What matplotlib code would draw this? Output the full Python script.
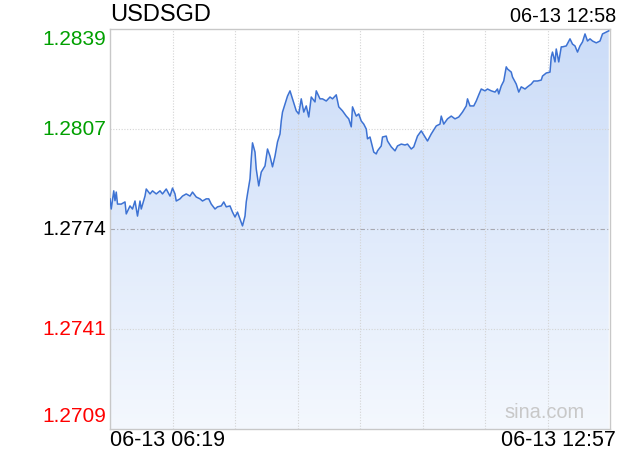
import numpy as np
import matplotlib
matplotlib.use("Agg")
import matplotlib.pyplot as plt
from matplotlib.colors import LinearSegmentedColormap

plt.rcParams['font.family'] = ['Liberation Sans', 'DejaVu Sans']

# minutes after 06-13 06:19
minutes = [0, 1, 3, 4, 5, 6, 9, 12, 13, 16, 18, 20, 22, 24, 25, 28, 29, 32, 34, 37,
           40, 42, 45, 48, 50, 52, 53, 56, 58, 61, 64, 66, 69, 72, 74, 77, 79, 81, 84, 86,
           89, 91, 93, 96, 98, 100, 102, 104, 106, 108, 109, 110, 112, 113, 114, 116, 117, 119, 121, 124,
           126, 128, 130, 132, 134, 136, 137, 138, 140, 142, 144, 146, 149, 151, 153, 155, 157, 159, 161, 164,
           165, 168, 170, 173, 176, 178, 181, 183, 186, 189, 191, 193, 194, 197, 199, 201, 203, 205, 206, 208,
           210, 211, 213, 214, 217, 218, 221, 222, 225, 228, 230, 233, 236, 238, 241, 243, 246, 249, 252, 254,
           257, 261, 264, 265, 267, 270, 273, 276, 279, 282, 285, 286, 288, 291, 293, 295, 297, 300, 302, 305,
           308, 310, 311, 313, 315, 317, 318, 321, 322, 325, 327, 329, 332, 334, 337, 339, 342, 345, 346, 349,
           352, 353, 354, 356, 357, 359, 361, 362, 365, 368, 370, 372, 374, 376, 378, 380, 382, 384, 386, 389,
           392, 394, 397, 399]
prices = [1.27838, 1.27805, 1.27864, 1.27832, 1.27860, 1.27821, 1.27821, 1.27828, 1.27789, 1.27815,
          1.27805, 1.27831, 1.27782, 1.27831, 1.27805, 1.27847, 1.27870, 1.27854, 1.27864, 1.27854,
          1.27864, 1.27854, 1.27870, 1.27847, 1.27873, 1.27854, 1.27831, 1.27838, 1.27847, 1.27854,
          1.27847, 1.27860, 1.27844, 1.27838, 1.27831, 1.27838, 1.27838, 1.27821, 1.27805, 1.27812,
          1.27815, 1.27828, 1.27812, 1.27815, 1.27795, 1.27779, 1.27795, 1.27773, 1.27750, 1.27782,
          1.27828, 1.27854, 1.27903, 1.27968, 1.28020, 1.27990, 1.27935, 1.27880, 1.27925, 1.27945,
          1.28000, 1.27977, 1.27942, 1.27977, 1.28023, 1.28049, 1.28091, 1.28120, 1.28146, 1.28172,
          1.28189, 1.28163, 1.28124, 1.28114, 1.28163, 1.28120, 1.28140, 1.28104, 1.28169, 1.28153,
          1.28189, 1.28163, 1.28163, 1.28156, 1.28169, 1.28163, 1.28176, 1.28137, 1.28124, 1.28107,
          1.28098, 1.28072, 1.28137, 1.28107, 1.28114, 1.28091, 1.28081, 1.28065, 1.28033, 1.28039,
          1.28007, 1.27990, 1.27984, 1.27994, 1.28010, 1.28039, 1.28042, 1.28026, 1.28007, 1.27994,
          1.28010, 1.28016, 1.28013, 1.28016, 1.28000, 1.28007, 1.28042, 1.28059, 1.28039, 1.28026,
          1.28049, 1.28075, 1.28081, 1.28107, 1.28081, 1.28098, 1.28107, 1.28098, 1.28104, 1.28120,
          1.28140, 1.28163, 1.28140, 1.28140, 1.28156, 1.28176, 1.28195, 1.28189, 1.28195, 1.28189,
          1.28185, 1.28195, 1.28179, 1.28205, 1.28221, 1.28267, 1.28260, 1.28250, 1.28234, 1.28211,
          1.28185, 1.28202, 1.28195, 1.28202, 1.28211, 1.28221, 1.28221, 1.28224, 1.28237, 1.28247,
          1.28250, 1.28299, 1.28315, 1.28283, 1.28325, 1.28283, 1.28332, 1.28332, 1.28335, 1.28358,
          1.28341, 1.28335, 1.28315, 1.28335, 1.28348, 1.28374, 1.28351, 1.28358, 1.28351, 1.28345,
          1.28351, 1.28374, 1.28380, 1.28384]

y_ticks = [1.2839, 1.28065, 1.2774, 1.27415, 1.2709]
y_labels = ['1.2839', '1.2807', '1.2774', '1.2741', '1.2709']
y_colors = ['#00a000', '#00a000', '#000000', '#ff0000', '#ff0000']
symbol = 'USDSGD'
time_now = '06-13 12:58'
time_start = '06-13 06:19'
time_end = '06-13 12:57'

fig = plt.figure(figsize=(6.2, 4.6), dpi=100)
ax = fig.add_axes([110 / 620, 30 / 460, 500 / 620, 400 / 460])
ax.set_xlim(0, 400)
ax.set_ylim(1.2709, 1.2839)

# gradient fill under the line
cmap = LinearSegmentedColormap.from_list('fill', ['#f4f8fe', '#cbdcf8'])
grad = np.linspace(0, 1, 256).reshape(-1, 1)
im = ax.imshow(grad, cmap=cmap, aspect='auto', origin='lower',
               extent=[0, 400, 1.2709, 1.2839], zorder=1)
poly = ax.fill_between(minutes, prices, 1.2709, color='none')
im.set_clip_path(poly.get_paths()[0], transform=ax.transData)

# grid
for xv in range(50, 400, 50):
    ax.axvline(xv, color='#d4d4d4', lw=0.8, ls=(0, (1, 1.5)), zorder=2)
for yv in [y_ticks[1], y_ticks[3]]:
    ax.axhline(yv, color='#d4d4d4', lw=0.8, ls=(0, (1, 1.5)), zorder=2)
ax.axhline(y_ticks[2], color='#a8a8b0', lw=0.8, ls=(0, (4, 2, 1, 2)), zorder=2)

ax.plot(minutes, prices, color='#3d72d3', lw=1.1, zorder=3)

ax.set_xticks([])
ax.set_yticks([])
for s in ax.spines.values():
    s.set_color('#c8c8c8')
    s.set_linewidth(1)

# price labels
for i, (v, lab, c) in enumerate(zip(y_ticks, y_labels, y_colors)):
    va = 'center'
    yy = v
    if i == 0:
        yy = v - 0.0003
    if i == len(y_ticks) - 1:
        yy = v + 0.00045
    ax.text(-0.008, yy, lab, transform=ax.get_yaxis_transform(), ha='right',
            va=va, fontsize=15, color=c)

fig.text(110 / 620, 1 - 15 / 460, symbol, fontsize=17, ha='left', va='center')
fig.text(616 / 620, 1 - 16 / 460, time_now, fontsize=14.3, ha='right', va='center')
fig.text(110 / 620, 1 - 441 / 460, time_start, fontsize=15.5, ha='left', va='center')
fig.text(616 / 620, 1 - 441 / 460, time_end, fontsize=15.5, ha='right', va='center')
fig.text(585 / 620, 1 - 413 / 460, 'sina.com', fontsize=14.4, ha='right', va='center',
         color='#c8c8c8')

fig.savefig('out.png', dpi=100)
